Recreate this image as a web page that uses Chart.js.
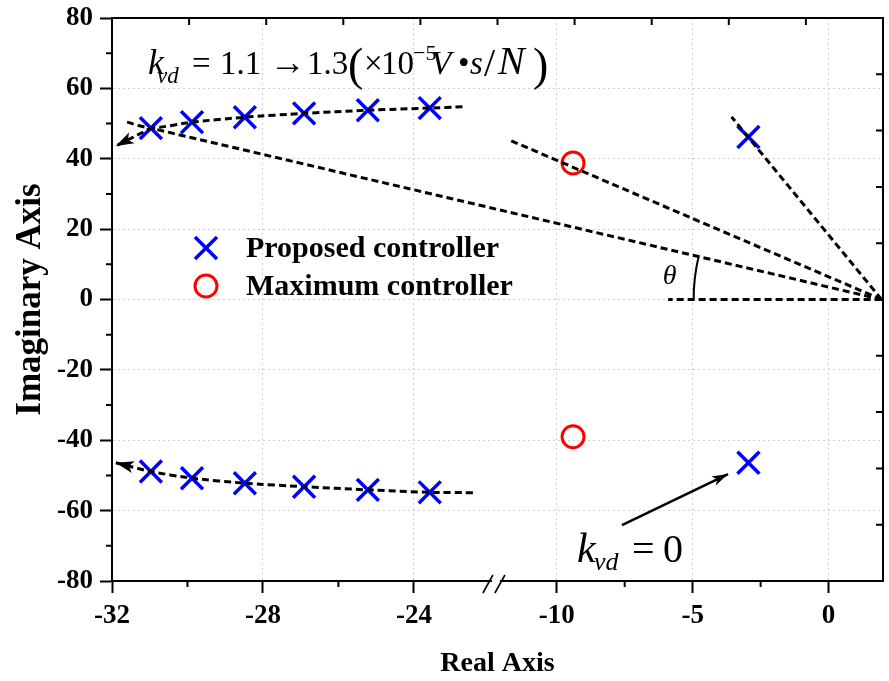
<!DOCTYPE html>
<html>
<head>
<meta charset="utf-8">
<script src="https://cdn.jsdelivr.net/npm/chart.js@4.4.0/dist/chart.umd.min.js"></script>
<style>
  html, body { margin: 0; padding: 0; background: #fff; }
  #wrap { width: 889px; height: 681px; }
</style>
</head>
<body>
<div id="wrap"><canvas id="locus" width="889" height="681"></canvas></div>
<script>
const SERIF = '"Liberation Serif", "Times New Roman", serif';

// poles of the proposed controller (real, imaginary)
const proposedRe = [-30.97, -29.88, -28.48, -26.91, -25.22, -23.58,
                    -30.97, -29.88, -28.48, -26.91, -25.22, -23.58, -2.95, -2.95];
const proposedIm = [48.7, 50.4, 51.8, 52.9, 53.8, 54.4,
                    -48.9, -50.8, -52.2, -53.2, -54.1, -54.8, 46.2, -46.4];

// poles of the maximum controller
const maximumRe = [-9.4, -9.4];
const maximumIm = [38.8, -39.0];

// dashed root locus branches
const upperLocusRe = [-31.6, -30.97, -29.88, -28.48, -26.91, -25.22, -23.58, -22.7];
const upperLocusIm = [50.4, 48.7, 50.4, 51.8, 52.9, 53.8, 54.4, 54.8];
const lowerLocusRe = [-31.9, -30.97, -29.88, -28.48, -26.91, -25.22, -23.58, -22.4];
const lowerLocusIm = [-46.4, -48.9, -50.8, -52.2, -53.2, -54.1, -54.8, -54.9];

// rays from the origin
const angleRayRe = [1.95, -30.97, -31.9];
const angleRayIm = [0, 48.7, 43.6];
const circleRayRe = [1.95, -11.7];
const circleRayIm = [0, 45.2];
const steepRayRe = [1.95, -3.57];
const steepRayIm = [0, 51.9];
const realRayRe = [1.95, -5.9];
const realRayIm = [0, 0];

// arrow pointing at the kvd = 0 pole
const kvd0ArrowRe = [-7.6, -3.7];
const kvd0ArrowIm = [-64.1, -49.6];

// axes
const xMin = -32, xMax = 2;
const xTickValues = [-32, -28, -24, -10, -5, 0];
const xTickLabels = ['-32', '-28', '-24', '-10', '-5', '0'];
const xMinorTicks = [-30, -26, -7.5, -2.5];
const yMin = -80, yMax = 80, yStep = 20;
const yMinorTicks = [-70, -50, -30, -10, 10, 30, 50, 70];
const frameTickCount = 10;

// broken real axis: -32..-21.8 | -12.2..2 (right part squeezed)
const breakLeft = -21.8, breakRight = -12.2, rightSqueeze = 0.7205;
function toAxis(re) {
  return re <= breakLeft ? re : breakLeft + (re - breakRight) * rightSqueeze;
}
function pts(re, im) {
  return re.map((r, i) => ({ x: toAxis(r), y: im[i] }));
}

function dashed(label, re, im, tension) {
  return {
    label: label,
    data: pts(re, im),
    showLine: true,
    borderColor: '#000',
    borderWidth: 3,
    borderDash: [7, 4],
    pointRadius: 0,
    tension: tension || 0,
    fill: false,
    order: 1
  };
}

function drawHead(ctx, fx, fy, tx, ty, len, half) {
  const a = Math.atan2(ty - fy, tx - fx);
  ctx.beginPath();
  ctx.moveTo(tx, ty);
  ctx.lineTo(tx - len * Math.cos(a) + half * Math.sin(a), ty - len * Math.sin(a) - half * Math.cos(a));
  ctx.lineTo(tx - len * Math.cos(a) * 0.75, ty - len * Math.sin(a) * 0.75);
  ctx.lineTo(tx - len * Math.cos(a) - half * Math.sin(a), ty - len * Math.sin(a) + half * Math.cos(a));
  ctx.closePath();
  ctx.fill();
}

// pieces placed at offsets from a start point
function drawPieces(ctx, x, y, parts) {
  for (const p of parts) {
    ctx.font = p.font;
    ctx.fillText(p.t, x + p.at, y + (p.dy || 0));
  }
}

const decorations = {
  id: 'decorations',
  afterDraw(chart) {
    const ctx = chart.ctx;
    const { left, right, top, bottom } = chart.chartArea;
    const xs = chart.scales.x, ys = chart.scales.y;
    ctx.save();
    ctx.strokeStyle = '#000';
    ctx.fillStyle = '#000';
    ctx.lineWidth = 2;
    ctx.setLineDash([]);

    // top and right frame with inward ticks
    ctx.beginPath();
    ctx.moveTo(left, top); ctx.lineTo(right, top); ctx.lineTo(right, bottom);
    for (let i = 1; i < frameTickCount; i++) {
      const x = left + (right - left) * i / frameTickCount;
      ctx.moveTo(x, top); ctx.lineTo(x, top + 7);
      const y = top + (bottom - top) * i / frameTickCount;
      ctx.moveTo(right, y); ctx.lineTo(right - 7, y);
    }
    // minor ticks
    for (const v of yMinorTicks) {
      const y = ys.getPixelForValue(v);
      ctx.moveTo(left - 6, y); ctx.lineTo(left, y);
    }
    for (const v of xMinorTicks) {
      const x = xs.getPixelForValue(toAxis(v));
      ctx.moveTo(x, bottom); ctx.lineTo(x, bottom + 6);
    }
    ctx.stroke();

    // axis break mark
    const bx = xs.getPixelForValue(breakLeft);
    ctx.fillStyle = '#fff';
    ctx.fillRect(bx - 5, bottom - 2, 8, 4);
    ctx.fillStyle = '#000';
    ctx.lineWidth = 1.6;
    ctx.beginPath();
    ctx.moveTo(bx - 14, bottom + 12); ctx.lineTo(bx - 4, bottom - 6);
    ctx.moveTo(bx - 2, bottom + 12); ctx.lineTo(bx + 8, bottom - 6);
    ctx.stroke();

    // arrow heads
    const head = (idx, from, to, len, half) => {
      const d = chart.getDatasetMeta(idx).data;
      drawHead(ctx, d[from].x, d[from].y, d[to].x, d[to].y, len, half);
    };
    head(3, 1, 0, 18, 6);
    head(4, 1, 2, 18, 6);
    head(8, 0, 1, 16, 5);

    // theta arc
    const ray = chart.getDatasetMeta(4).data;
    const ox = ray[0].x, oy = ray[0].y;
    const th = Math.atan2(oy - ray[1].y, ox - ray[1].x);
    ctx.lineWidth = 2;
    ctx.beginPath();
    ctx.arc(ox, oy, 188, Math.PI, Math.PI + th);
    ctx.stroke();
    ctx.textBaseline = 'alphabetic';
    ctx.textAlign = 'left';
    ctx.font = `italic 28px ${SERIF}`;
    ctx.fillText('\u03b8', ox - 219, oy - 16);

    // legend
    const lx = left + 94, ly1 = top + 230, ly2 = top + 268;
    ctx.strokeStyle = '#0000ff';
    ctx.lineWidth = 3.5;
    ctx.beginPath();
    ctx.moveTo(lx - 11, ly1 - 11); ctx.lineTo(lx + 11, ly1 + 11);
    ctx.moveTo(lx + 11, ly1 - 11); ctx.lineTo(lx - 11, ly1 + 11);
    ctx.stroke();
    ctx.strokeStyle = '#ff0000';
    ctx.lineWidth = 3;
    ctx.beginPath();
    ctx.arc(lx, ly2, 11, 0, Math.PI * 2);
    ctx.stroke();
    ctx.fillStyle = '#000';
    ctx.font = `bold 30px ${SERIF}`;
    ctx.textBaseline = 'middle';
    ctx.fillText('Proposed controller', lx + 40, ly1 + 1);
    ctx.fillText('Maximum controller', lx + 40, ly2 + 1);

    // annotations
    ctx.textBaseline = 'alphabetic';
    const itK = `italic 36px ${SERIF}`, it33 = `italic 33px ${SERIF}`, rm33 = `33px ${SERIF}`;
    const it22 = `italic 23px ${SERIF}`, rm22 = `22px ${SERIF}`, paren = `46px ${SERIF}`;
    drawPieces(ctx, left + 36, top + 56, [
      { t: 'k', font: itK, at: 0 },
      { t: 'vd', font: it22, at: 9, dy: 9 },
      { t: '=', font: rm33, at: 44 },
      { t: '1.1', font: rm33, at: 72 },
      { t: '\u2192', font: `36px ${SERIF}`, at: 122 },
      { t: '1.3', font: rm33, at: 159 },
      { t: '(', font: paren, at: 200, dy: 6 },
      { t: '\u00d7', font: rm33, at: 216 },
      { t: '10', font: rm33, at: 233 },
      { t: '\u22125', font: rm22, at: 265, dy: -14 },
      { t: 'V', font: it33, at: 283 },
      { t: '\u2022', font: rm33, at: 310 },
      { t: 's', font: it33, at: 322 },
      { t: '/', font: `40px ${SERIF}`, at: 336, dy: 2 },
      { t: 'N', font: `italic 40px ${SERIF}`, at: 350 },
      { t: ')', font: paren, at: 385, dy: 6 }
    ]);
    const it40 = `italic 42px ${SERIF}`, rm40 = `40px ${SERIF}`, it26 = `italic 26px ${SERIF}`;
    drawPieces(ctx, left + 465, bottom - 19, [
      { t: 'k', font: it40, at: 0 },
      { t: 'vd', font: it26, at: 17, dy: 8 },
      { t: '=', font: rm40, at: 55 },
      { t: '0', font: rm40, at: 86 }
    ]);
    ctx.restore();
  }
};

const tickFont = { family: SERIF, size: 27, weight: 'bold' };

new Chart(document.getElementById('locus'), {
  type: 'scatter',
  data: {
    datasets: [
      {
        label: 'Proposed controller',
        data: pts(proposedRe, proposedIm),
        pointStyle: 'crossRot',
        pointRadius: 15.5,
        pointBorderWidth: 3.5,
        borderColor: '#0000ff',
        backgroundColor: '#0000ff',
        showLine: false,
        order: 10
      },
      {
        label: 'Maximum controller',
        data: pts(maximumRe, maximumIm),
        pointStyle: 'circle',
        pointRadius: 11,
        pointBorderWidth: 3,
        borderColor: '#ff0000',
        backgroundColor: 'rgba(0,0,0,0)',
        showLine: false,
        order: 10
      },
      dashed('upper locus', upperLocusRe, upperLocusIm, 0.2),
      dashed('lower locus', lowerLocusRe, lowerLocusIm, 0.2),
      dashed('angle ray', angleRayRe, angleRayIm),
      dashed('circle ray', circleRayRe, circleRayIm),
      dashed('steep ray', steepRayRe, steepRayIm),
      dashed('real ray', realRayRe, realRayIm),
      {
        label: 'kvd = 0 arrow',
        data: pts(kvd0ArrowRe, kvd0ArrowIm),
        showLine: true,
        borderColor: '#000',
        borderWidth: 2.5,
        pointRadius: 0,
        order: 1
      }
    ]
  },
  options: {
    responsive: false,
    animation: false,
    layout: { autoPadding: false, padding: { left: 0, top: 18, right: 6, bottom: 0 } },
    plugins: { legend: { display: false }, tooltip: { enabled: false } },
    scales: {
      x: {
        type: 'linear',
        min: toAxis(xMin),
        max: toAxis(xMax),
        afterBuildTicks: s => { s.ticks = xTickValues.map(v => ({ value: toAxis(v) })); },
        afterFit: s => { s.height = 100; s.paddingLeft = 0; s.paddingRight = 0; },
        ticks: {
          autoSkip: false,
          maxRotation: 0,
          padding: 7,
          color: '#000',
          font: tickFont,
          callback: (v, i) => xTickLabels[i]
        },
        grid: { color: '#d0d0d0', lineWidth: 1, tickColor: '#000', tickWidth: 2, tickLength: 12 },
        border: { color: '#000', width: 2, dash: [2, 3] },
        title: {
          display: true,
          text: 'Real Axis',
          color: '#000',
          font: { family: SERIF, size: 28, weight: 'bold' },
          padding: { top: 0, bottom: 0 }
        }
      },
      y: {
        type: 'linear',
        min: yMin,
        max: yMax,
        afterFit: s => { s.width = 112; s.paddingTop = 0; s.paddingBottom = 0; },
        ticks: {
          stepSize: yStep,
          padding: 7,
          color: '#000',
          font: tickFont,
          callback: v => String(v)
        },
        grid: { color: '#d0d0d0', lineWidth: 1, tickColor: '#000', tickWidth: 2, tickLength: 12 },
        border: { color: '#000', width: 2, dash: [2, 3] },
        title: {
          display: true,
          text: 'Imaginary Axis',
          color: '#000',
          font: { family: SERIF, size: 35, weight: 'bold' },
          padding: { top: 10, bottom: 0 }
        }
      }
    }
  },
  plugins: [decorations]
});
</script>
</body>
</html>
